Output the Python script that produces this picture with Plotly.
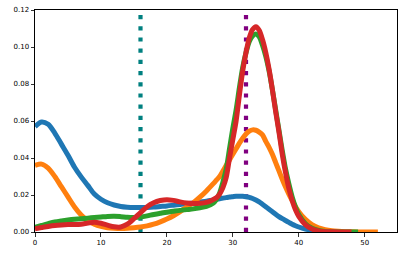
import plotly.graph_objects as go

# common x grid (finer around the peak)
x_grid = [0, 1, 2, 3, 4, 5, 6, 7, 8, 9, 10, 11, 12, 13, 14, 15, 16, 17, 18, 19,
          20, 21, 22, 23, 24, 25, 26, 27,
          27.5, 28, 28.5, 29, 29.5, 30, 30.5, 31, 31.5, 32, 32.5, 33, 33.5,
          34, 34.5, 35, 35.5, 36, 36.5, 37, 37.5, 38, 38.5, 39, 39.5, 40,
          41, 42, 43, 44, 45, 46, 47, 48, 49, 50, 51, 52]

blue = [0.057, 0.0595, 0.0582, 0.0535, 0.0475, 0.0415, 0.035, 0.0298, 0.0252, 0.0205,
        0.0177, 0.0158, 0.0146, 0.0138, 0.0134, 0.0132, 0.0132, 0.0133, 0.0135, 0.0138,
        0.0141, 0.0145, 0.0149, 0.0153, 0.0157, 0.0162, 0.0167, 0.0173,
        0.0176, 0.018, 0.0183, 0.0186, 0.0189, 0.0191, 0.0193, 0.0193, 0.0193, 0.0191,
        0.0187, 0.0181, 0.0173, 0.0163, 0.015, 0.0137, 0.0123, 0.011, 0.0096, 0.0083,
        0.0072, 0.0062, 0.0052, 0.0042, 0.0034, 0.0027,
        0.0016, 0.0009, 0.0005, 0.0002, 0.0001]

orange = [0.036, 0.0367, 0.0345, 0.030, 0.0245, 0.019, 0.0135, 0.0092, 0.0062, 0.0042,
          0.003, 0.0023, 0.002, 0.0019, 0.002, 0.0023, 0.0027, 0.0033, 0.0042, 0.0055,
          0.007, 0.0088, 0.011, 0.0135, 0.0158, 0.0188, 0.0222, 0.026,
          0.028, 0.030, 0.033, 0.036, 0.039, 0.042, 0.045, 0.048, 0.0507, 0.053,
          0.0545, 0.0552, 0.055, 0.054, 0.0525, 0.049, 0.0458, 0.042, 0.0375, 0.033,
          0.0285, 0.0243, 0.0205, 0.017, 0.0138, 0.011,
          0.0068, 0.004, 0.0023, 0.0013, 0.0007, 0.0004, 0.0002, 0.0001, 0.0, 0.0, 0.0, 0.0]

green = [0.0025, 0.0035, 0.0045, 0.0054, 0.006, 0.0065, 0.0069, 0.0072, 0.0075, 0.0078,
         0.0081, 0.0084, 0.0085, 0.0083, 0.008, 0.0079, 0.0081, 0.0087, 0.0095, 0.0101,
         0.0107, 0.0112, 0.0117, 0.0121, 0.0125, 0.0131, 0.0139, 0.0155,
         0.0175, 0.021, 0.027, 0.034, 0.045, 0.056, 0.066, 0.078, 0.089, 0.097,
         0.103, 0.106, 0.107, 0.1055, 0.101, 0.095, 0.087, 0.077, 0.066, 0.055,
         0.044, 0.034, 0.026, 0.019, 0.0135, 0.0095,
         0.0045, 0.002, 0.0008, 0.0003, 0.0001, 0.0, 0.0, 0.0, 0.0]

red = [0.0018, 0.0024, 0.003, 0.0035, 0.0038, 0.004, 0.004, 0.0042, 0.0048, 0.0053,
       0.0047, 0.0037, 0.0028, 0.0027, 0.0042, 0.0072, 0.0105, 0.0137, 0.0158, 0.017,
       0.0175, 0.0171, 0.0163, 0.0157, 0.0154, 0.0155, 0.016, 0.0175,
       0.0185, 0.0205, 0.024, 0.0295, 0.04, 0.05, 0.06, 0.074, 0.087, 0.097,
       0.105, 0.1095, 0.111, 0.109, 0.104, 0.097, 0.088, 0.077, 0.065, 0.054,
       0.042, 0.032, 0.0235, 0.017, 0.012, 0.0085,
       0.004, 0.0016, 0.0006, 0.0002, 0.0001, 0.0, 0.0, 0.0]

series = [
    (blue, "#1f77b4"),
    (orange, "#ff7f0e"),
    (green, "#2ca02c"),
    (red, "#d62728"),
]

vlines = [(16, "teal"), (32, "purple")]

x_ticks = [0, 10, 20, 30, 40, 50]
y_ticks = [0.0, 0.02, 0.04, 0.06, 0.08, 0.10, 0.12]

fig = go.Figure()
for ys, col in series:
    fig.add_trace(go.Scatter(
        x=x_grid[:len(ys)], y=ys, mode="lines",
        line=dict(color=col, width=5, shape="spline", smoothing=0.8),
        showlegend=False, hoverinfo="skip",
    ))

for xv, col in vlines:
    fig.add_shape(type="line", xref="x", yref="y", x0=xv, x1=xv, y0=0, y1=0.12,
                  line=dict(color=col, width=4.2, dash="4.2px,7px"), layer="below")

axis_common = dict(
    showline=True, linecolor="black", linewidth=1, mirror=True,
    ticks="outside", ticklen=3.5, tickwidth=0.8, tickcolor="black",
    showgrid=False, zeroline=False, automargin=False,
    ticklabeloverflow="allow",
    tickfont=dict(family="DejaVu Sans", size=7, color="black"),
)

fig.update_xaxes(range=[0, 54.9], tickvals=x_ticks,
                 ticktext=[str(t) for t in x_ticks], **axis_common)
fig.update_yaxes(range=[0, 0.12], tickvals=y_ticks,
                 ticktext=[f"{t:.2f}" for t in y_ticks], **axis_common)

fig.update_layout(
    width=407, height=253,
    margin=dict(l=35, r=10, t=10, b=21),
    paper_bgcolor="white", plot_bgcolor="white",
    font=dict(family="DejaVu Sans", size=7, color="black"),
)

# remove the browser's default 8px body margin so the figure sits at (0, 0)
fig.write_html("out.html",
               config={"displayModeBar": False, "staticPlot": True},
               post_script="document.body.style.margin='0';document.body.style.overflow='hidden';")
